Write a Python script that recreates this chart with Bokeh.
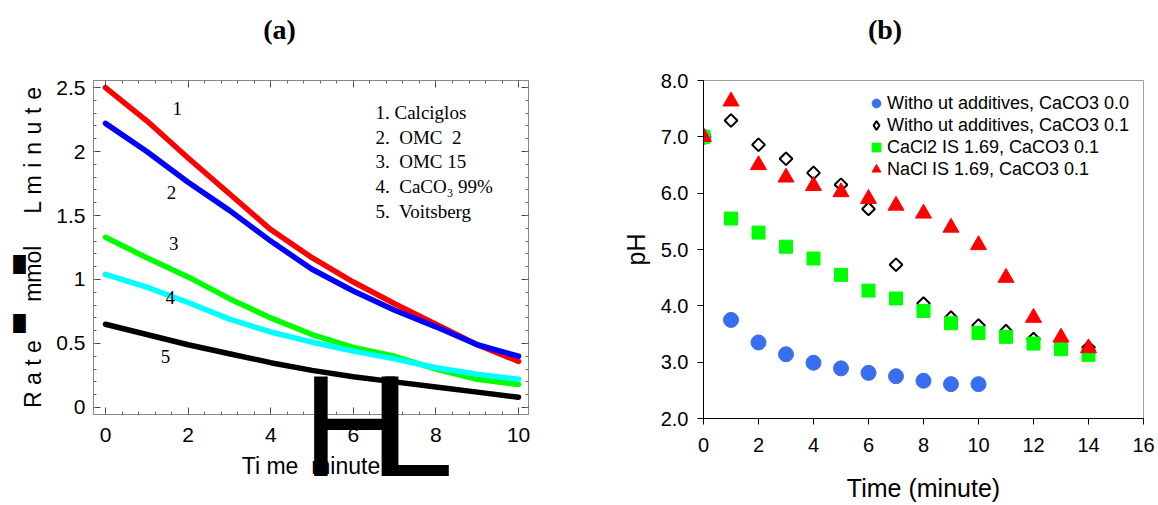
import numpy as np
from bokeh.plotting import figure
from bokeh.models import (Label, LinearAxis, Range1d, FixedTicker, Legend, LegendItem,
                          PrintfTickFormatter)
from bokeh.layouts import row
from bokeh.embed import file_html
from bokeh.resources import INLINE

# ---------------- data: panel (a) ----------------
time_a = [0, 1, 2, 3, 4, 5, 6, 7, 8, 9, 10]
rate_calciglos = [2.50, 2.24, 1.95, 1.67, 1.39, 1.17, 0.98, 0.81, 0.65, 0.49, 0.36]
rate_omc2 = [2.22, 2.00, 1.76, 1.54, 1.30, 1.08, 0.91, 0.76, 0.63, 0.49, 0.40]
rate_omc15 = [1.33, 1.17, 1.02, 0.85, 0.70, 0.57, 0.47, 0.40, 0.30, 0.22, 0.18]
rate_caco3 = [1.04, 0.94, 0.82, 0.69, 0.59, 0.51, 0.44, 0.38, 0.31, 0.26, 0.22]
rate_voitsberg = [0.65, 0.57, 0.49, 0.42, 0.35, 0.29, 0.24, 0.20, 0.16, 0.12, 0.08]
legend_a = ["1. Calciglos", "2.\u00a0 OMC \u00a02", "3.\u00a0 OMC 15",
            "4.\u00a0 CaCO\u2083 99%", "5.\u00a0 Voitsberg"]
yticks_a = [0, 0.5, 1, 1.5, 2, 2.5]
ylabels_a = ["0", "0.5", "1", "1.5", "2", "2.5"]
xticks_a = [0, 2, 4, 6, 8, 10]

# ---------------- data: panel (b) ----------------
time_b0 = [0, 1, 2, 3, 4, 5, 6, 7, 8, 9, 10]
ph_none_00 = [7.0, 3.75, 3.35, 3.14, 2.99, 2.89, 2.81, 2.75, 2.67, 2.61, 2.61]
time_b = [0, 1, 2, 3, 4, 5, 6, 7, 8, 9, 10, 11, 12, 13, 14]
ph_none_01 = [7.0, 7.29, 6.86, 6.61, 6.36, 6.15, 5.72, 4.73, 4.04, 3.79, 3.65, 3.55, 3.41, 3.32, 3.26]
ph_cacl2 = [7.0, 5.55, 5.30, 5.05, 4.84, 4.55, 4.27, 4.13, 3.91, 3.69, 3.52, 3.45, 3.33, 3.23, 3.13]
ph_nacl = [7.0, 7.63, 6.50, 6.28, 6.13, 6.02, 5.90, 5.78, 5.64, 5.39, 5.08, 4.50, 3.79, 3.44, 3.25]
legend_b = ["Witho ut additives, CaCO3 0.0", "Witho ut additives, CaCO3 0.1",
            "CaCl2 IS 1.69, CaCO3 0.1", "NaCl IS 1.69, CaCO3 0.1"]
yticks_b = [2, 3, 4, 5, 6, 7, 8]
xticks_b = [0, 2, 4, 6, 8, 10, 12, 14, 16]

SANS = "Liberation Sans"
SERIF = "Liberation Serif"
NB = "\u00a0"
S3 = "\u2004"

# ================= panel (a) =================
pa = figure(width=560, height=505, frame_width=435, frame_height=334,
            output_backend="svg", toolbar_location=None,
            x_range=Range1d(-0.29, 10.24), y_range=Range1d(-0.055, 2.555),
            min_border_left=93, min_border_right=32, min_border_top=80, min_border_bottom=91)
pa.grid.visible = False
pa.outline_line_color = "#888888"

colors_a = ["#ff0000", "#0000ff", "#00ff00", "#00ffff", "#000000"]
series_a = [rate_calciglos, rate_omc2, rate_omc15, rate_caco3, rate_voitsberg]
for ys, c in zip(series_a, colors_a):
    pa.line(time_a, ys, line_color=c, line_width=5.5, line_join="round", line_cap="round")

def style_inside(ax, show_labels):
    ax.major_tick_in = 7
    ax.major_tick_out = 0
    ax.minor_tick_in = 3
    ax.minor_tick_out = 0
    ax.major_tick_line_color = "#444444"
    ax.minor_tick_line_color = "#666666"
    ax.axis_line_color = "#888888"
    ax.major_label_text_font = SANS
    ax.major_label_text_font_size = "21px"
    ax.major_label_text_color = "#000000"
    if not show_labels:
        ax.major_label_text_color = None
        ax.major_label_text_font_size = "0px"
        ax.major_label_standoff = 0

xt_a = FixedTicker(ticks=xticks_a, minor_ticks=list(np.arange(0, 10.01, 0.4)))
yt_a = FixedTicker(ticks=yticks_a, minor_ticks=list(np.arange(0, 2.55, 0.1)))
xa = pa.xaxis[0]
ya = pa.yaxis[0]
xa.ticker = xt_a
ya.ticker = yt_a
ya.major_label_overrides = {k: v for k, v in zip(yticks_a, ylabels_a)}
style_inside(xa, True)
style_inside(ya, True)
xa.major_label_standoff = 13
ya.major_label_standoff = 8
ya.axis_label = ("R a t e" + NB * 6 + "mmol" + NB * 5 + "L" + NB + S3.join("minute"))
ya.axis_label_text_font = SANS
ya.axis_label_text_font_size = "23px"
ya.axis_label_text_font_style = "normal"
ya.axis_label_text_color = "#000000"
ya.axis_label_standoff = 7

top_ax = LinearAxis(ticker=xt_a)
right_ax = LinearAxis(ticker=yt_a)
style_inside(top_ax, False)
style_inside(right_ax, False)
top_ax.axis_label = "(a)" + NB * 9
top_ax.axis_label_text_font = SERIF
top_ax.axis_label_text_font_size = "28px"
top_ax.axis_label_text_font_style = "bold"
top_ax.axis_label_text_color = "#000000"
top_ax.axis_label_standoff = 36
pa.add_layout(top_ax, "above")
pa.add_layout(right_ax, "right")

# garbled glyphs of the original axis labels (big "H" "L" and black blocks)
hl_ticks = [6.03, 7.45]
hl_axis = LinearAxis(ticker=FixedTicker(ticks=hl_ticks, minor_ticks=[]),
                     major_label_overrides={hl_ticks[0]: "H", hl_ticks[1]: "L"},
                     major_tick_line_color=None, minor_tick_line_color=None,
                     axis_line_color=None, major_tick_out=0, major_tick_in=0,
                     major_label_text_font=SANS, major_label_text_font_size="145px",
                     major_label_text_color="#000000", major_label_standoff=-100,
                     axis_label="Ti me " + NB + "minute", axis_label_text_font=SANS,
                     axis_label_text_font_size="23px", axis_label_text_font_style="normal",
                     axis_label_text_color="#000000", axis_label_standoff=-57)
pa.add_layout(hl_axis, "below")
blk_ticks = [0.656, 1.12]
blk_axis = LinearAxis(ticker=FixedTicker(ticks=blk_ticks, minor_ticks=[]),
                      major_label_overrides={blk_ticks[0]: "\u2588", blk_ticks[1]: "\u2588"},
                      major_tick_line_color=None, minor_tick_line_color=None,
                      axis_line_color=None, major_tick_out=0, major_tick_in=0,
                      major_label_text_font="DejaVu Sans", major_label_text_font_size="16px",
                      major_label_text_color="#000000", major_label_standoff=-8)
pa.add_layout(blk_axis, "left")

# curve numbers
num_pos = [(1.74, 2.34), (1.6, 1.68), (1.65, 1.28), (1.57, 0.86), (1.45, 0.40)]
for i, (x, y) in enumerate(num_pos):
    pa.add_layout(Label(x=x, y=y, text=str(i + 1), text_font=SERIF, text_font_size="19px",
                        text_align="center", text_baseline="middle", text_color="#000000"))
# legend text block
for i, s in enumerate(legend_a):
    pa.add_layout(Label(x=282, y=302 - i * 24.7, x_units="screen", y_units="screen", text=s,
                        text_font=SERIF, text_font_size="19px", text_baseline="middle",
                        text_color="#000000"))

# ================= panel (b) =================
pb = figure(width=598, height=505, frame_width=440, frame_height=338,
            output_backend="svg", toolbar_location=None,
            x_range=Range1d(0, 16), y_range=Range1d(2, 8),
            min_border_left=143, min_border_right=15, min_border_top=80, min_border_bottom=87)
pb.grid.visible = False
pb.outline_line_color = "#a0a0a0"

r1 = pb.scatter(time_b0, ph_none_00, marker="circle", size=15, fill_color="#3a6ef0",
                line_color="#3a6ef0")
r2 = pb.scatter(time_b, ph_none_01, marker="square", size=9, angle=np.pi / 4,
                fill_color="#ffffff", line_color="#000000", line_width=2)
r2_key = pb.scatter(time_b, ph_none_01, marker="diamond", size=14, fill_color="#ffffff",
                    line_color="#000000", line_width=2, visible=False)
r3 = pb.scatter(time_b, ph_cacl2, marker="square", size=13, fill_color="#00ff00",
                line_color="#00ff00")
r4 = pb.scatter(time_b, ph_nacl, marker="triangle", size=16, fill_color="#ff0000",
                line_color="#ff0000")

xb = pb.xaxis[0]
yb = pb.yaxis[0]
xb.ticker = FixedTicker(ticks=xticks_b)
yb.ticker = FixedTicker(ticks=yticks_b)
yb.formatter = PrintfTickFormatter(format="%.1f")
for ax in (xb, yb):
    ax.major_tick_in = 0
    ax.major_tick_out = 6
    ax.minor_tick_line_color = None
    ax.axis_line_color = "#000000"
    ax.major_tick_line_color = "#000000"
    ax.major_label_text_font = SANS
    ax.major_label_text_font_size = "20px"
    ax.major_label_text_color = "#000000"
    ax.axis_label_text_font = SANS
    ax.axis_label_text_font_size = "25px"
    ax.axis_label_text_font_style = "normal"
    ax.axis_label_text_color = "#000000"
xb.major_label_standoff = 13
yb.major_label_standoff = 9
xb.axis_label = "Time (minute)"
yb.axis_label = "pH"
xb.axis_label_standoff = 19
yb.axis_label_standoff = 8

top_b = LinearAxis(ticker=FixedTicker(ticks=[]), major_tick_line_color=None,
                   minor_tick_line_color=None, axis_line_color=None,
                   major_label_text_font_size="0px", major_label_standoff=0,
                   axis_label="(b)" + NB * 11, axis_label_text_font=SERIF,
                   axis_label_text_font_size="28px", axis_label_text_font_style="bold",
                   axis_label_text_color="#000000", axis_label_standoff=36)
pb.add_layout(top_b, "above")

leg = Legend(items=[LegendItem(label=legend_b[0], renderers=[r1]),
                    LegendItem(label=legend_b[1], renderers=[r2_key]),
                    LegendItem(label=legend_b[2], renderers=[r3]),
                    LegendItem(label=legend_b[3], renderers=[r4])],
             location=(162, 238), padding=0, margin=0, spacing=0,
             glyph_height=22, glyph_width=22, label_height=22, label_standoff=0,
             label_text_font=SANS, label_text_font_size="18px", label_text_color="#000000",
             border_line_color=None, background_fill_alpha=0)
pb.add_layout(leg, "center")

layout = row(pa, pb, spacing=0)
open("out.html", "w").write(file_html(layout, INLINE))
